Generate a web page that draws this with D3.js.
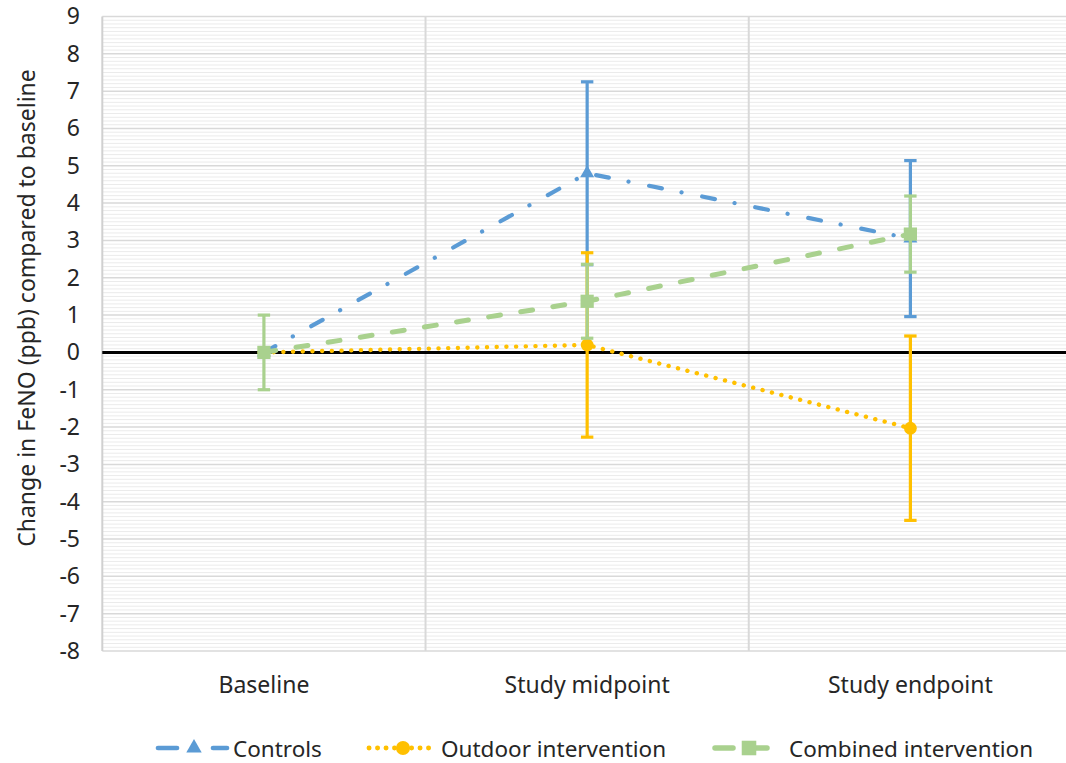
<!DOCTYPE html>
<html lang="en">
<head>
<meta charset="UTF-8">
<script src="https://cdn.jsdelivr.net/npm/d3@7"></script>
<title>FeNO change compared to baseline</title>
<style>
    body, html { margin: 0; padding: 0; background: #fff; }
    svg { display: block; font-family: "Noto Sans", sans-serif; }
</style>
</head>
<body>
<div id="chart"></div>
<script>

// data
const categories = ["Baseline", "Study midpoint", "Study endpoint"];
const seriesNames = ["Controls", "Outdoor intervention", "Combined intervention"];
const controlsMean = [0, 4.8, 3.05];
const controlsErr = [0, 2.45, 2.09];
const outdoorMean = [0, 0.2, -2.03];
const outdoorErr = [0, 2.47, 2.47];
const combinedMean = [0, 1.37, 3.17];
const combinedErr = [1.0, 0.99, 1.02];
const yTickValues = [-8, -7, -6, -5, -4, -3, -2, -1, 0, 1, 2, 3, 4, 5, 6, 7, 8, 9];
const yTitle = "Change in FeNO (ppb) compared to baseline";

// look of each series
const styles = [
    { color: "#5B9BD5", width: 4.2, dash: "13,20,0.1,21", marker: "triangle" },
    { color: "#FFC000", width: 4.4, dash: "0.1,9.6", marker: "circle" },
    { color: "#A9D18E", width: 5, dash: "12,20.5", marker: "square" }
];
const series = [
    { name: seriesNames[0], mean: controlsMean, err: controlsErr },
    { name: seriesNames[1], mean: outdoorMean, err: outdoorErr },
    { name: seriesNames[2], mean: combinedMean, err: combinedErr }
];

const W = 1066, H = 763;
const plotLeft = 102.3, plotRight = 1072, plotTop = 16.5, plotBottom = 651;
const fontSize = 23;

const svg = d3.select("#chart").append("svg").attr("width", W).attr("height", H);

const x = d3.scaleBand().domain(categories).range([plotLeft, plotRight]).padding(0);
const xc = c => x(c) + x.bandwidth() / 2;
const y = d3.scaleLinear().domain([-8, 9]).range([plotBottom, plotTop]);

// minor grid lines (every 0.1)
const minorValues = d3.range(-80, 91).filter(v => v % 10 !== 0).map(v => v / 10);
svg.append("g").selectAll("line").data(minorValues).enter().append("line")
    .attr("x1", plotLeft).attr("x2", plotRight)
    .attr("y1", d => y(d)).attr("y2", d => y(d))
    .attr("stroke", "#ebebeb").attr("stroke-width", 1);

// major grid lines
svg.append("g").selectAll("line").data(yTickValues).enter().append("line")
    .attr("x1", plotLeft).attr("x2", plotRight)
    .attr("y1", d => y(d)).attr("y2", d => y(d))
    .attr("stroke", "#d9d9d9").attr("stroke-width", 1.5);

// vertical separators between categories
svg.append("g").selectAll("line").data(categories.slice(1)).enter().append("line")
    .attr("x1", d => x(d)).attr("x2", d => x(d))
    .attr("y1", plotTop).attr("y2", plotBottom)
    .attr("stroke", "#d9d9d9").attr("stroke-width", 2);

// left axis line
svg.append("line").attr("x1", plotLeft).attr("x2", plotLeft).attr("y1", plotTop).attr("y2", plotBottom)
    .attr("stroke", "#d0d0d0").attr("stroke-width", 2);

// zero line
svg.append("line").attr("x1", plotLeft).attr("x2", plotRight).attr("y1", y(0)).attr("y2", y(0))
    .attr("stroke", "#000").attr("stroke-width", 3);

// y axis labels
const yAxis = d3.axisLeft(y).tickValues(yTickValues).tickSize(0).tickPadding(0).tickFormat(d3.format("d"));
const yg = svg.append("g").attr("transform", `translate(80,0)`).call(yAxis);
yg.select(".domain").remove();
yg.selectAll("text").attr("font-size", fontSize).attr("font-family", "Noto Sans").attr("fill", "#262626")
    .text(d => d < 0 ? "-" + Math.abs(d) : d);

// x axis labels
const xAxis = d3.axisBottom(x).tickSize(0).tickPadding(0);
const xg = svg.append("g").attr("transform", `translate(0,${677})`).call(xAxis);
xg.select(".domain").remove();
xg.selectAll("text").attr("font-size", fontSize).attr("font-family", "Noto Sans").attr("fill", "#262626");

// y title
svg.append("text").attr("transform", "translate(35,308) rotate(-90)")
    .attr("text-anchor", "middle").attr("font-size", fontSize).attr("fill", "#262626")
    .text(yTitle);

// marker
const drawMarker = (g, type, cx, cy, color, k = 1) => {
    if (type === "circle") {
        g.append("circle").attr("cx", cx).attr("cy", cy).attr("r", 6.4 * k).attr("fill", color);
    } else {
        const sym = type === "triangle" ? d3.symbol(d3.symbolTriangle, 85 * k * k) : d3.symbol(d3.symbolSquare, 175 * k * k);
        g.append("path").attr("d", sym()).attr("transform", `translate(${cx},${cy})`).attr("fill", color);
    }
};

// series
series.forEach((s, i) => {
    const st = styles[i];
    const g = svg.append("g");
    const pts = categories.map((c, j) => ({ c: c, m: s.mean[j], e: s.err[j] }));

    // error bars
    const eb = g.append("g").selectAll("g").data(pts.filter(p => p.e > 0)).enter().append("g");
    eb.append("line").attr("x1", d => xc(d.c)).attr("x2", d => xc(d.c))
        .attr("y1", d => y(d.m + d.e)).attr("y2", d => y(d.m - d.e))
        .attr("stroke", st.color).attr("stroke-width", 3.2);
    [1, -1].forEach(sign => {
        eb.append("line").attr("x1", d => xc(d.c) - 6.2).attr("x2", d => xc(d.c) + 6.2)
            .attr("y1", d => y(d.m + sign * d.e)).attr("y2", d => y(d.m + sign * d.e))
            .attr("stroke", st.color).attr("stroke-width", 3.2);
    });

    // line
    const line = d3.line().x(d => xc(d.c)).y(d => y(d.m));
    g.append("path").attr("d", line(pts)).attr("fill", "none")
        .attr("stroke", st.color).attr("stroke-width", st.width)
        .attr("stroke-dasharray", st.dash).attr("stroke-linecap", "round");

    // markers
    pts.forEach(p => drawMarker(g, st.marker, xc(p.c), y(p.m), st.color));
});

// legend
const legendY = 748;
const legendItems = [
    { segs: [[158, 177], [213, 227]], mk: 194, tx: 233 },
    { segs: [[369, 429]], mk: 403, tx: 441 },
    { segs: [[715, 733], [749, 767]], mk: 749, tx: 789 }
];
legendItems.forEach((it, i) => {
    const st = styles[i];
    const g = svg.append("g");
    it.segs.forEach(sg => {
        g.append("line").attr("x1", sg[0]).attr("x2", sg[1]).attr("y1", legendY).attr("y2", legendY)
            .attr("stroke", st.color).attr("stroke-width", st.width + 0.5).attr("stroke-linecap", "round")
            .attr("stroke-dasharray", i === 1 ? "0.1,8.4" : null);
    });
    drawMarker(g, st.marker, it.mk, legendY, st.color, 1.1);
    g.append("text").attr("x", it.tx).attr("y", legendY).attr("dominant-baseline", "central")
        .attr("font-size", 22.5).attr("fill", "#262626").text(seriesNames[i]);
});

</script>
</body>
</html>
